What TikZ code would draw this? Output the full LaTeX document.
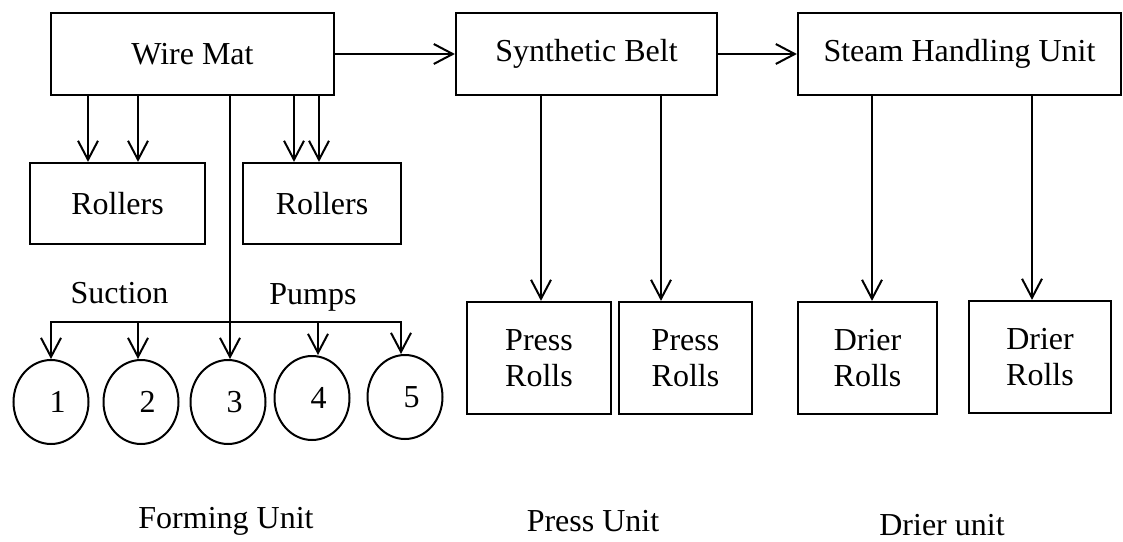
\documentclass[tikz,border=0pt]{standalone}
\usepackage{fontspec}
\setmainfont{Liberation Serif}
\usepackage{tikz}
\usetikzlibrary{arrows.meta,shapes.geometric}

\begin{document}
\begin{tikzpicture}[x=1pt,y=-1pt,->,>={Straight Barb[length=19pt,width=20pt]},line width=2pt,font=\fontsize{32}{36}\selectfont]

    \tikzstyle{every node}=[align=center]
    \tikzstyle{unit}=[draw,line width=2.2pt,inner sep=0pt]
    \tikzstyle{pump}=[draw,ellipse,line width=2pt,minimum width=75pt,minimum height=84pt,inner sep=0pt,execute at begin node=\hspace*{13pt}]

    \useasboundingbox (0,0) rectangle (1123,541);

    \node[unit,minimum width=283pt,minimum height=82pt] (wm) at (192.5,54) {Wire Mat};
    \node[unit,minimum width=261pt,minimum height=82pt] (sb) at (586.5,54) {Synthetic Belt};
    \node[unit,minimum width=323pt,minimum height=82pt] (sh) at (959.5,54) {Steam Handling Unit};

    \node[unit,minimum width=175pt,minimum height=81pt] (r1) at (117.5,203.5) {Rollers};
    \node[unit,minimum width=158pt,minimum height=81pt] (r2) at (322,203.5) {Rollers};

    \node[unit,minimum width=144pt,minimum height=112pt] (p1) at (539,358) {Press\\Rolls};
    \node[unit,minimum width=133pt,minimum height=112pt] (p2) at (685.5,358) {Press\\Rolls};
    \node[unit,minimum width=139pt,minimum height=112pt] (d1) at (867.5,358) {Drier\\Rolls};
    \node[unit,minimum width=142pt,minimum height=112pt] (d2) at (1040,357) {Drier\\Rolls};

    \node[pump] (c1) at (51,402) {1};
    \node[pump] (c2) at (141,402) {2};
    \node[pump] (c3) at (228,402) {3};
    \node[pump] (c4) at (312,398) {4};
    \node[pump] (c5) at (405,397) {5};

    \node (suc) at (119.5,293) {Suction};
    \node (pmp) at (313,297) {Pumps};
    \node (fu) at (226,521) {Forming Unit};
    \node (pu) at (593,521) {Press Unit};
    \node (du) at (942,525) {Drier unit};

    \path (wm) edge (sb)
          (sb) edge (sh);

    \draw (wm.south -| 88,0) -- (r1.north -| 88,0);
    \draw (wm.south -| 138,0) -- (r1.north -| 138,0);
    \draw (wm.south -| 294,0) -- (r2.north -| 294,0);
    \draw (wm.south -| 319,0) -- (r2.north -| 319,0);
    \draw (wm.south -| 230,0) -- (c3.north -| 230,0);

    \coordinate (bl) at (51,322);
    \coordinate (br) at (401,322);
    \draw[-,line cap=rect] (bl) -- (br);
    \draw (bl) -- (c1);
    \draw (bl -| 138,0) -- (c2.north -| 138,0);
    \draw (bl -| 318,0) -- (c4.north -| 318,0);
    \draw (br) -- (c5.north -| br);

    \draw (sb.south -| 541,0) -- (p1.north -| 541,0);
    \draw (sb.south -| 661,0) -- (p2.north -| 661,0);
    \draw (sh.south -| 872,0) -- (d1.north -| 872,0);
    \draw (sh.south -| 1032,0) -- (d2.north -| 1032,0);

\end{tikzpicture}
\end{document}
